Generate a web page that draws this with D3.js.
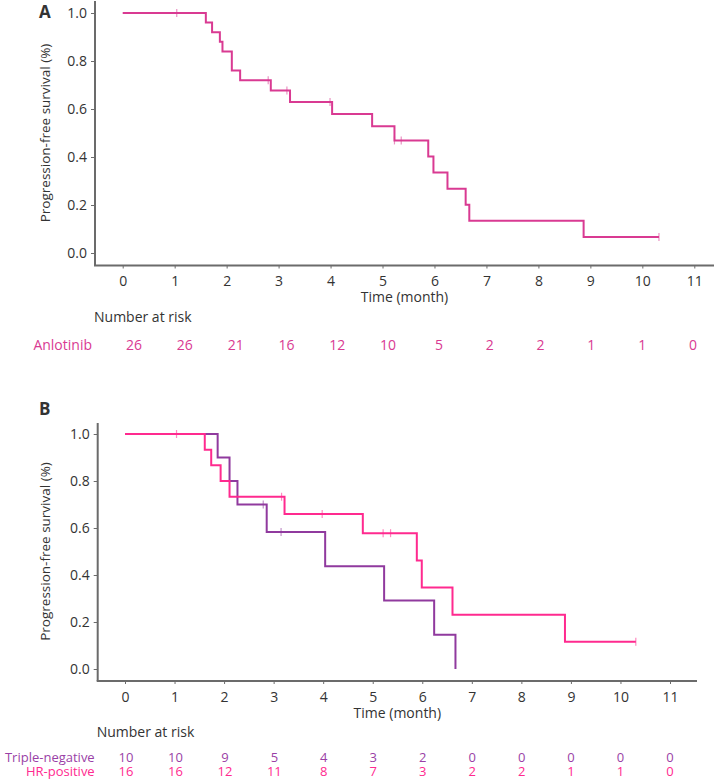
<!DOCTYPE html>
<html>
<head>
<meta charset="utf-8">
<script src="https://cdn.jsdelivr.net/npm/d3@7"></script>
<style>
  body { margin: 0; background: #fff; }
  text { font-family: "Open Sans", "Noto Sans", sans-serif; fill: #333; }
</style>
</head>
<body>
<div id="chart"></div>
<script>
// tick values shared by both panels
var monthTicks = [0, 1, 2, 3, 4, 5, 6, 7, 8, 9, 10, 11];
var survTicks = [0.0, 0.2, 0.4, 0.6, 0.8, 1.0];

// Panel A - all patients (step times and survival)
var anloTimes = [0, 1.60, 1.72, 1.87, 1.92, 2.10, 2.26, 2.85, 3.22, 4.03, 4.80, 5.23, 5.88, 5.98, 6.25, 6.60, 6.67, 8.87];
var anloSurv = [1, 0.96, 0.92, 0.88, 0.84, 0.76, 0.72, 0.677, 0.629, 0.579, 0.528, 0.469, 0.402, 0.335, 0.268, 0.201, 0.134, 0.067];
var anloCensor = [1.04, 2.80, 3.16, 3.99, 5.23, 5.36, 10.32];
var anloRisk = [26, 26, 21, 16, 12, 10, 5, 2, 2, 1, 1, 0];

// Panel B - by subtype
var tnTimes = [0, 1.87, 2.11, 2.27, 2.86, 4.04, 5.23, 6.24, 6.67];
var tnSurv = [1, 0.9, 0.8, 0.7, 0.583, 0.4375, 0.292, 0.146, 0];
var tnCensor = [2.79, 3.15];
var tnRisk = [10, 10, 9, 5, 4, 3, 2, 0, 0, 0, 0, 0];

var hrTimes = [0, 1.61, 1.74, 1.93, 2.11, 3.22, 4.80, 5.89, 5.99, 6.61, 8.88];
var hrSurv = [1, 0.933, 0.867, 0.80, 0.733, 0.66, 0.578, 0.462, 0.347, 0.231, 0.116];
var hrCensor = [1.04, 3.16, 3.98, 5.21, 5.36, 10.31];
var hrRisk = [16, 16, 12, 11, 8, 7, 3, 2, 2, 1, 1, 0];

var pinkA = "#d93a92",
    pinkB = "#ff2a8f",
    purple = "#903a9e",
    axisColor = "#6b6b6b";

var svg = d3.select("#chart")
    .append("svg")
    .attr("width", 714)
    .attr("height", 781);

// survival value at time t for a step curve
function survAt(times, surv, t) {
    var i = d3.bisectRight(times, t) - 1;
    return surv[Math.max(i, 0)];
}

function stepPoints(times, surv, end) {
    var pts = times.map(function (t, i) { return [t, surv[i]]; });
    if (end != null) pts.push([end, surv[surv.length - 1]]);
    return pts;
}

function drawPanel(cfg) {
    var g = svg.append("g");
    var x = d3.scaleLinear().domain([0, 11]).range([cfg.x0, cfg.x11]);
    var y = d3.scaleLinear().domain([0, 1]).range([cfg.y0, cfg.y1]);

    // axis lines (drawn by hand since they run past the scale range)
    g.append("line")
        .attr("x1", cfg.axisX).attr("x2", cfg.axisX)
        .attr("y1", cfg.axisTop).attr("y2", cfg.axisY)
        .attr("stroke", axisColor).attr("stroke-width", 2);
    g.append("line")
        .attr("x1", cfg.axisX - 1).attr("x2", cfg.axisRight)
        .attr("y1", cfg.axisY).attr("y2", cfg.axisY)
        .attr("stroke", axisColor).attr("stroke-width", 2);

    var yAxis = g.append("g")
        .attr("transform", "translate(" + cfg.axisX + ",0)")
        .call(d3.axisLeft(y).tickValues(survTicks).tickFormat(d3.format(".1f")).tickSize(4).tickPadding(4));
    var xAxis = g.append("g")
        .attr("transform", "translate(0," + cfg.axisY + ")")
        .call(d3.axisBottom(x).tickValues(monthTicks).tickSize(3).tickPadding(8));

    [yAxis, xAxis].forEach(function (a) {
        a.select(".domain").remove();
        a.selectAll("line").attr("stroke", axisColor);
        a.selectAll("text").attr("font-size", 14).attr("fill", "#333")
            .attr("font-family", "'Open Sans', sans-serif");
    });

    g.append("text")
        .attr("x", 39).attr("y", cfg.letterY)
        .attr("font-size", 17).attr("font-weight", "bold").attr("fill", "#222")
        .text(cfg.letter);

    g.append("text")
        .attr("transform", "translate(" + cfg.ylabX + "," + (cfg.y0 + cfg.y1) / 2 + ") rotate(-90)")
        .attr("text-anchor", "middle")
        .attr("font-size", 13.5)
        .text("Progression-free survival (%)");

    g.append("text")
        .attr("x", (cfg.axisX + cfg.axisRight) / 2).attr("y", cfg.titleY)
        .attr("text-anchor", "middle")
        .attr("font-size", 14)
        .text("Time (month)");

    g.append("text")
        .attr("x", cfg.axisX - 1).attr("y", cfg.riskTitleY)
        .attr("font-size", 14)
        .text("Number at risk");

    var line = d3.line()
        .x(function (d) { return x(d[0]); })
        .y(function (d) { return y(d[1]); })
        .curve(d3.curveStepAfter);

    // risk table columns
    var rx = d3.scaleLinear().domain([0, 11]).range(cfg.riskRange);

    cfg.series.forEach(function (s) {
        g.append("path")
            .datum(stepPoints(s.times, s.surv, s.end))
            .attr("d", line)
            .attr("fill", "none")
            .attr("stroke", s.color)
            .attr("stroke-width", 2);

        g.selectAll(null)
            .data(s.censor)
            .enter().append("line")
            .attr("x1", function (d) { return x(d); })
            .attr("x2", function (d) { return x(d); })
            .attr("y1", function (d) { return y(survAt(s.times, s.surv, d)) - 4; })
            .attr("y2", function (d) { return y(survAt(s.times, s.surv, d)) + 4; })
            .attr("stroke", s.color)
            .attr("stroke-width", 1.2)
            .attr("opacity", 0.55);

        g.append("text")
            .attr("x", cfg.axisX - 3).attr("y", s.rowY)
            .attr("text-anchor", "end")
            .attr("font-size", cfg.riskFont)
            .style("fill", s.textColor)
            .text(s.name);

        g.selectAll(null)
            .data(s.risk)
            .enter().append("text")
            .attr("x", function (d, i) { return rx(monthTicks[i]); })
            .attr("y", s.rowY)
            .attr("text-anchor", "middle")
            .attr("font-size", cfg.riskFont)
            .style("fill", s.textColor)
            .text(function (d) { return d; });
    });
}

drawPanel({
    letter: "A", letterY: 18,
    x0: 122.7, x11: 694.3, y0: 253, y1: 13,
    axisX: 95, axisY: 265.5, axisTop: 1, axisRight: 714,
    ylabX: 50, titleY: 302, riskTitleY: 322,
    riskRange: [134, 693], riskFont: 14,
    series: [
        { name: "Anlotinib", times: anloTimes, surv: anloSurv, end: 10.32, censor: anloCensor,
          risk: anloRisk, color: pinkA, textColor: pinkA, rowY: 350 }
    ]
});

drawPanel({
    letter: "B", letterY: 415,
    x0: 125, x11: 670, y0: 669, y1: 434,
    axisX: 97.7, axisY: 681, axisTop: 423, axisRight: 697,
    ylabX: 50, titleY: 718, riskTitleY: 737,
    riskRange: [126, 670], riskFont: 13,
    series: [
        { name: "Triple-negative", times: tnTimes, surv: tnSurv, end: null, censor: tnCensor,
          risk: tnRisk, color: purple, textColor: "#9a3fa6", rowY: 761.5 },
        { name: "HR-positive", times: hrTimes, surv: hrSurv, end: 10.31, censor: hrCensor,
          risk: hrRisk, color: pinkB, textColor: pinkB, rowY: 776 }
    ]
});
</script>
</body>
</html>
